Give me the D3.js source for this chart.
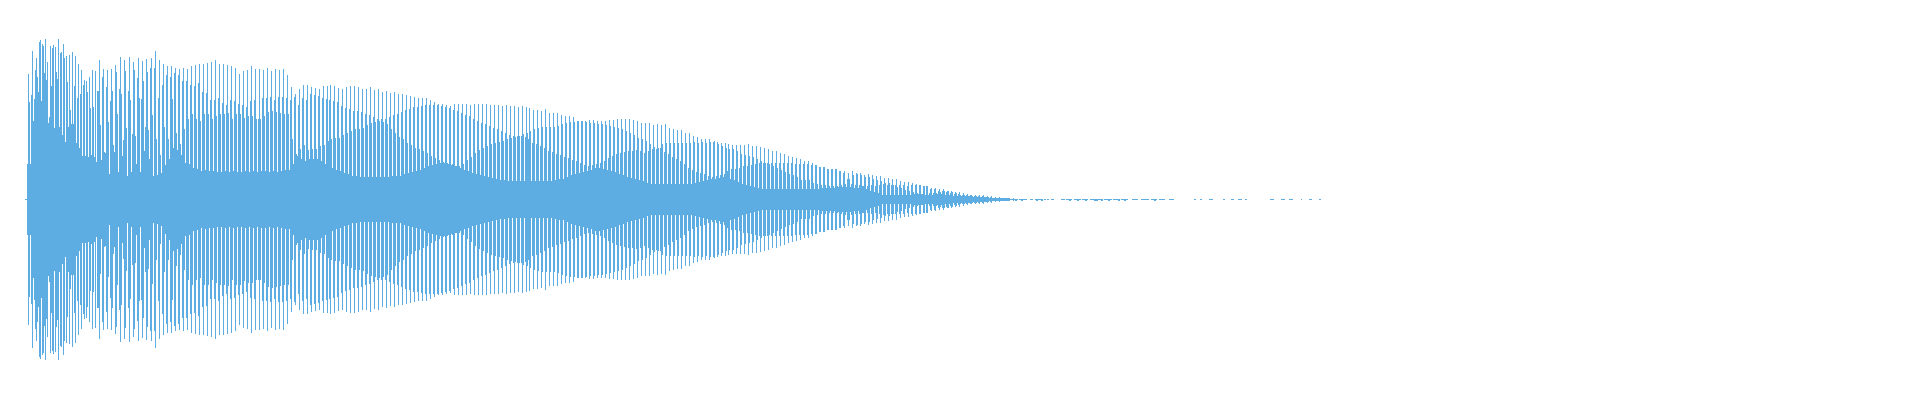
<!DOCTYPE html>
<html><head><meta charset="utf-8">
<script src="https://d3js.org/d3.v7.min.js"></script>
<style>html,body{margin:0;padding:0;background:#fff;overflow:hidden}svg{display:block}</style>
</head><body><svg id="c" width="1920" height="400"></svg>
<script>
// First samples of the onset: one amplitude per sample, read directly
const onsetSamples = [35,125,97,35,104,148,78,100,129,141,122,107,157,159,98,155,153,126,160,119,137,76,82,153,113,151,154,71,152,127,120,160,72,146,147,64,155,141,57,143,117,72,144,89,75,147,75,113,143,56,101,135,51,105,129,43,114,119,43,118,107,42,122,91,44,129,92,42,128,37,108,108,139,74,39,122,130,47,46,112,129,77,25,98,130,108,54,47,134,127,85,27,110,142,105,43,59,139,128,71,23,108,142,99,27,65,137,129,63,35,121,141,101,27,100,138,118,48,72,140,127,69,40,131,141,84,23];
// Then four samples per pitch period: before peak, peak, after peak, floor
const peakValues = [148,139,135,133,133,131,130,131,130,133,134,135,135,136,137,139,135,135,134,133,131,125,128,129,133,130,130,129,131,128,130,129,130,124,112,105,110,114,114,112,111,110,
113,113,114,113,111,110,112,113,113,112,110,110,112,109,110,107,108,106,107,105,105,104,103,102,101,101,101,99,97,95,95,94,93,95,95,95,95,94,95,95,95,95,94,94,94,93,94,93,93,92,93,92,91,89,89,88,90,86,86,86,84,83,83,82,78,78,78,79,79,78,78,78,79,79,80,80,80,80,79,78,
76,76,76,74,75,74,75,71,70,69,69,66,66,63,62,60,60,60,57,57,56,56,55,54,54,54,54,55,53,53,52,51,50,48,48,46,45,43,42,41,40,38,38,36,34,32,32,30,30,30,28,28,26,28,26,26,24,25,24,23,23,21,21,20,20,18,17,17,16,15,14,13,13,11,11,10,10,8,8,7,
7,6,5,4,4,4,4,3,3,2,2,1,1];
const beforeValues = [131,101,114,124,122,126,124,118,118,114,113,116,107,106,99,99,101,96,94,99,98,95,94,92,98,99,80,101,101,102,99,102,102,101,99,102,94,101,99,105,104,103,
101,100,99,98,97,93,91,90,88,88,87,85,84,82,80,80,80,82,84,85,87,89,90,92,92,93,94,94,94,94,93,92,91,89,88,86,84,83,80,78,76,75,73,71,70,68,66,64,63,63,63,62,60,56,55,53,51,48,47,45,44,42,41,39,38,36,34,33,34,35,36,38,41,43,45,46,47,48,48,49,
48,46,48,50,50,51,47,45,42,40,38,35,31,29,27,26,25,23,22,23,24,25,28,30,30,31,33,33,34,35,36,36,36,36,36,36,36,36,36,35,35,35,35,34,34,32,32,30,30,30,28,26,20,15,14,14,13,13,14,13,14,15,14,14,14,14,14,13,14,14,14,13,13,10,10,8,8,7,6,5,
5,4,4,4,3,3,3,2,2,1,1,1,1];
const afterValues = [60,44,72,60,100,66,55,70,80,85,80,78,85,85,80,83,85,85,86,80,85,85,81,83,83,80,80,83,87,88,87,86,85,85,60,45,50,54,49,50,50,53,
54,58,60,61,61,64,66,68,70,70,71,74,76,77,78,77,75,70,66,62,60,56,54,51,50,48,46,43,41,39,37,36,34,33,33,35,39,42,46,49,51,53,55,56,57,58,60,61,62,63,65,66,68,70,71,72,72,72,72,73,75,76,77,77,78,78,77,76,76,75,75,74,73,72,71,70,68,66,64,61,
60,58,55,52,51,55,56,56,56,56,56,56,56,57,56,57,56,57,58,55,53,51,50,50,48,45,44,43,42,40,38,36,35,33,31,29,27,25,24,22,19,19,19,16,15,14,14,13,13,13,14,15,20,24,25,24,22,22,20,19,18,16,16,14,12,11,9,8,7,6,5,4,4,4,6,7,8,8,7,6,
4,4,3,3,3,2,2,2,1,1,1,1,1];
const floorValues = [24,26,34,40,51,49,44,36,35,31,30,28,29,28,28,27,27,28,27,28,27,27,28,27,28,27,28,28,27,28,27,28,29,29,35,43,40,38,40,40,40,38,
35,33,31,29,28,26,25,23,23,22,22,22,22,22,22,22,22,23,23,23,25,26,27,28,29,31,33,34,35,36,36,35,35,33,31,29,28,26,25,24,23,22,21,20,19,19,18,18,18,18,18,18,18,18,18,18,18,18,19,20,20,22,24,25,26,27,28,29,31,31,30,29,28,27,25,24,22,21,20,19,18,16,
15,15,15,15,15,15,15,15,15,15,15,16,17,18,19,20,20,21,22,21,20,19,17,15,14,13,12,11,10,10,10,10,10,10,10,10,10,10,10,10,10,10,10,11,11,11,11,12,12,12,12,11,11,13,10,8,7,6,4,4,4,4,4,4,4,4,5,5,5,6,6,6,5,5,4,4,3,3,3,3,
3,2,2,2,2,1,1,1,1,1,1,1,0];
const tailStart = [-3,979,991,1002,1007,1016,1019,1023,1033,1038,1046,1054,1062,1076,1085,1093,1104,1113,1123,1131,1141,1166,1172,1181,1195,1203,1210,1217,1242,1253,1261,1273,1281,1291];
const tailEnd   = [-1,990,999,1005,1015,1018,1021,1026,1037,1044,1053,1060,1075,1084,1092,1100,1110,1121,1129,1137,1146,1168,1174,1185,1197,1206,1214,1219,1246,1257,1265,1274,1284,1293];
const tailDips  = [987,993,1008,1013,1041,1049,1057,1066,1068,1073,1080,1090,1096,1126];

const colour = "#5dade2", pitch = 3.98, firstPeriod = 32;
const x = d3.scaleLinear().domain([0,1892]).range([28,1920]);
const y = d3.scaleLinear().domain([-160,160]).range([359.5,39.5]);
const svg = d3.select("#c").attr("shape-rendering","crispEdges");

function bars(vals, pos){
  svg.append("g").attr("fill",colour).selectAll("rect").data(vals).join("rect")
    .attr("x",(d,i)=>Math.round(x(pos(i))))
    .attr("width",1)
    .attr("y",d=>Math.floor(y(d)))
    .attr("height",d=>Math.ceil(y(-d))-Math.floor(y(d)));
}
bars(onsetSamples, i=>i-1);
[[beforeValues,-1],[peakValues,0],[afterValues,1],[floorValues,2]].forEach(([vals,off])=>{
  bars(vals, i=>Math.round((i+firstPeriod)*pitch)+off);
});
svg.append("g").attr("fill",colour).selectAll("rect").data(tailStart).join("rect")
  .attr("x",d=>x(d)).attr("width",(d,i)=>x(tailEnd[i])-x(d))
  .attr("y",y(0.5)).attr("height",y(-0.5)-y(0.5));
svg.append("g").attr("fill",colour).selectAll("rect").data(tailDips).join("rect")
  .attr("x",d=>x(d)).attr("width",2)
  .attr("y",y(0)).attr("height",y(-1.5)-y(0));
</script></body></html>
